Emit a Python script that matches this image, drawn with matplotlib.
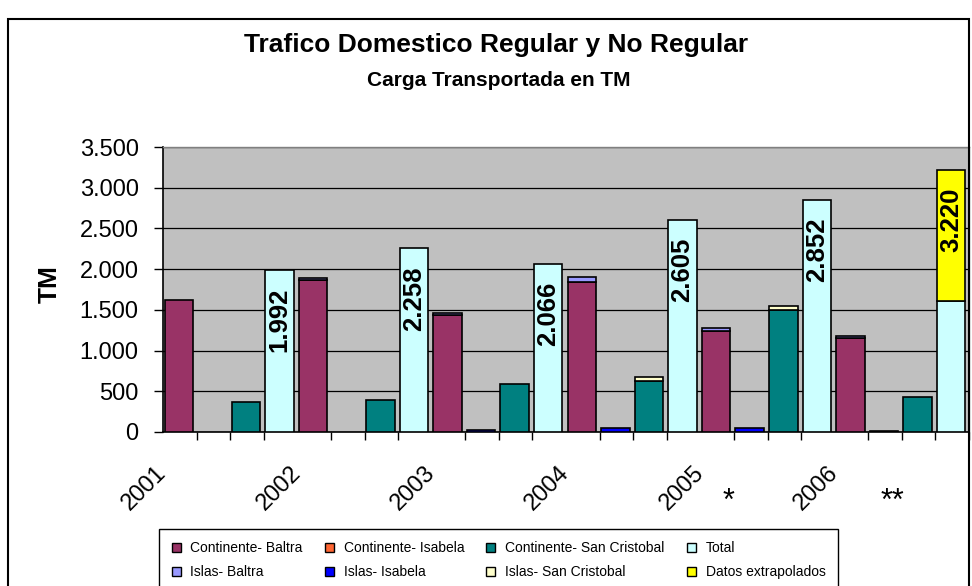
import numpy as np
import matplotlib
matplotlib.use("Agg")  # No GUI
import matplotlib.pyplot as plt
from matplotlib.patches import Patch, Rectangle
from matplotlib.ticker import FuncFormatter, FixedLocator, MultipleLocator

plt.rcParams['font.family'] = ['Liberation Sans', 'DejaVu Sans']

# Data (TM per year and destination)
years = ["2001", "2002", "2003", "2004", "2005", "2006"]
continente_baltra = [1620, 1865, 1437, 1840, 1236, 1150]
continente_isabela = [0, 0, 0, 0, 0, 0]
continente_san_cristobal = [372, 397, 589, 630, 1498, 430]
islas_baltra = [0, 28, 28, 67, 45, 29]
islas_isabela = [0, 0, 25, 45, 45, 15]
islas_san_cristobal = [0, 0, 0, 42, 49, 0]
total = [1992, 2258, 2066, 2605, 2852, 1610]
datos_extrapolados = [0, 0, 0, 0, 0, 1610]
total_labels = [1992, 2258, 2066, 2605, 2852, 3220]
year_notes = {"2005": "*", "2006": "**"}

colors = {
    "Continente- Baltra": "#993366",
    "Continente- Isabela": "#FF6633",
    "Continente- San Cristobal": "#008080",
    "Total": "#CCFFFF",
    "Islas- Baltra": "#9999FF",
    "Islas- Isabela": "#0000FF",
    "Islas- San Cristobal": "#FFFFCC",
    "Datos extrapolados": "#FFFF00",
}

W, H = 972, 586
fig = plt.figure(figsize=(W / 100, H / 100), dpi=100)
ax = fig.add_axes([163 / W, 1 - 432 / H, (969 - 163) / W, (432 - 147) / H])
ax.set_facecolor("#C0C0C0")

base = np.arange(len(years)) * 4
shift = -0.03
width = 0.85


def draw(xpos, heights, bottom, name):
    heights = np.asarray(heights, dtype=float)
    bottom = np.asarray(bottom, dtype=float)
    keep = heights > 0
    ax.bar(xpos[keep] + shift, heights[keep], width=width, bottom=bottom[keep],
           color=colors[name], edgecolor="black", linewidth=1.2, zorder=3)


zeros = np.zeros(len(years))
draw(base + 0, continente_baltra, zeros, "Continente- Baltra")
draw(base + 0, islas_baltra, continente_baltra, "Islas- Baltra")
draw(base + 1, continente_isabela, zeros, "Continente- Isabela")
draw(base + 1, islas_isabela, continente_isabela, "Islas- Isabela")
draw(base + 2, continente_san_cristobal, zeros, "Continente- San Cristobal")
draw(base + 2, islas_san_cristobal, continente_san_cristobal, "Islas- San Cristobal")
draw(base + 3, total, zeros, "Total")
draw(base + 3, datos_extrapolados, total, "Datos extrapolados")

# value labels inside the total bars
for i, v in enumerate(total_labels):
    ax.annotate("{:,}".format(v).replace(",", "."), xy=(base[i] + 3 + shift, v),
                xytext=(0, -13), textcoords="offset points",
                rotation=90, ha="center", va="top",
                fontsize=18.5, fontweight="bold", zorder=5)

ax.set_xlim(-0.5, 4 * len(years) - 0.5)
ax.set_ylim(0, 3500)
ax.yaxis.set_major_locator(MultipleLocator(500))
ax.yaxis.set_major_formatter(FuncFormatter(lambda v, p: "{:,.0f}".format(v).replace(",", ".")))
ax.yaxis.grid(True, color="black", linewidth=0.9)
ax.set_axisbelow(True)
ax.tick_params(axis="y", direction="out", length=6.5, width=1, pad=11, labelsize=17)

ax.xaxis.set_major_locator(FixedLocator(base - 0.5))
ax.set_xticklabels(years)
ax.xaxis.set_minor_locator(FixedLocator(np.arange(-0.5, 4 * len(years), 1)))
ax.tick_params(axis="x", which="major", length=0, pad=27, labelsize=17)
ax.tick_params(axis="x", which="minor", direction="out", length=6, width=1)
for lbl in ax.get_xticklabels():
    lbl.set_rotation(45)
    lbl.set_ha("right")
    lbl.set_va("center")
    lbl.set_rotation_mode("anchor")

# footnote marks under 2005 and 2006 (offset from the year's first slot)
note_offset = {"2005": 0.33, "2006": 1.21}
for i, y in enumerate(years):
    if y in year_notes:
        ax.annotate(year_notes[y], xy=(base[i] + note_offset[y], 0),
                    xycoords=("data", "axes fraction"), xytext=(0, -56),
                    textcoords="offset points", ha="center", va="baseline", fontsize=22)

for s in ("left", "bottom"):
    ax.spines[s].set_color("black")
    ax.spines[s].set_linewidth(1.2)
for s in ("top", "right"):
    ax.spines[s].set_color("#808080")
    ax.spines[s].set_linewidth(1.0)

ax.set_ylabel("TM", fontsize=19, fontweight="bold")
ax.yaxis.set_label_coords(-0.126, 0.52)

fig.text(496 / W, 1 - 45 / H, "Trafico Domestico Regular y No Regular",
         ha="center", va="center", fontsize=19, fontweight="bold")
fig.text(499 / W, 1 - 80 / H, "Carga Transportada en TM",
         ha="center", va="center", fontsize=15, fontweight="bold")

# legend, filled column by column
order = ["Continente- Baltra", "Islas- Baltra", "Continente- Isabela", "Islas- Isabela",
         "Continente- San Cristobal", "Islas- San Cristobal", "Total", "Datos extrapolados"]
handles = [Patch(facecolor=colors[n], edgecolor="black", linewidth=1.0) for n in order]
leg = fig.legend(handles, order, loc="upper left", bbox_to_anchor=(159 / W, 1 - 529 / H),
                 borderaxespad=0, ncol=4, fontsize=10, frameon=True, fancybox=False,
                 framealpha=1, edgecolor="black", handlelength=0.65, handleheight=0.65,
                 handletextpad=0.7, columnspacing=1.6, labelspacing=0.7, borderpad=0.9)
leg.get_frame().set_linewidth(1.0)

# outer chart border
fig.patches.append(Rectangle((8 / W, -0.05), (969 - 8) / W, 1.05 - 19 / H,
                             transform=fig.transFigure, fill=False,
                             edgecolor="black", linewidth=1.5))

fig.savefig("out.png", dpi=100)
